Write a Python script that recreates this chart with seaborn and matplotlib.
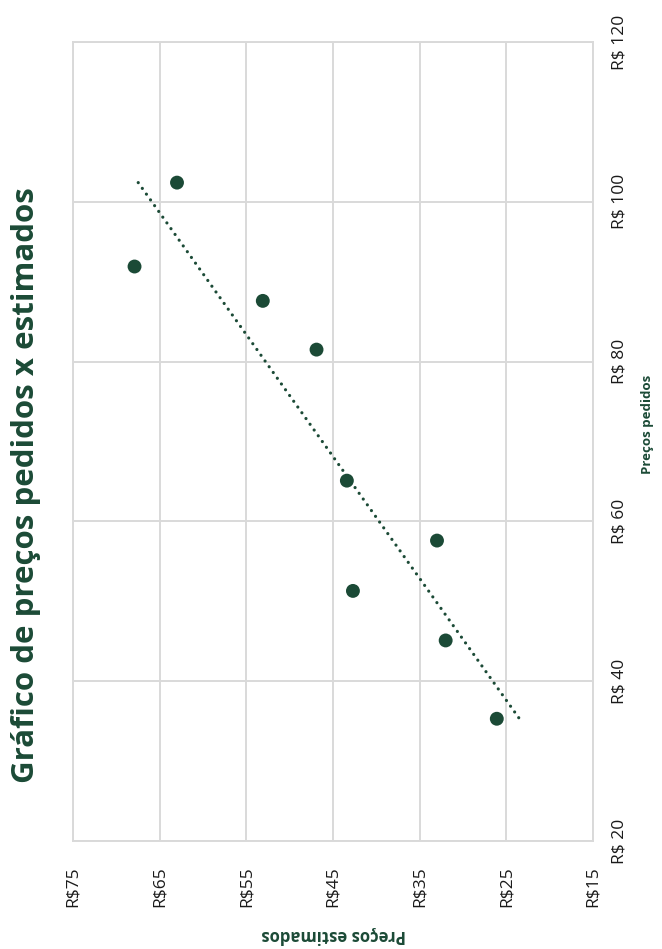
import numpy as np
import pandas as pd
import matplotlib
matplotlib.use("Agg")
import matplotlib.pyplot as plt
import seaborn as sns

# Prices asked vs. estimated prices (R$)
precos_pedidos = [102.4, 91.9, 87.6, 81.5, 65.1, 57.6, 51.3, 45.1, 35.3]
precos_estimados = [63.0, 67.9, 53.1, 46.9, 43.4, 33.0, 42.7, 32.0, 26.1]

pedidos_ticks = [20, 40, 60, 80, 100, 120]
pedidos_labels = ["R$ 20", "R$ 40", "R$ 60", "R$ 80", "R$ 100", "R$ 120"]
estimados_ticks = [75, 65, 55, 45, 35, 25, 15]
estimados_labels = ["R$75", "R$65", "R$55", "R$45", "R$35", "R$25", "R$15"]

titulo = "Gráfico de preços pedidos x estimados"
rotulo_pedidos = "Preços pedidos"
rotulo_estimados = "Preços estimados"

verde = "#1b4a36"
cinza = "#d9d9d9"

sns.set_theme(style="white")
plt.rcParams["font.family"] = ["Open Sans", "DejaVu Sans"]

df = pd.DataFrame({"pedido": precos_pedidos, "estimado": precos_estimados})

fig = plt.figure(figsize=(6.62, 9.49), dpi=100)
ax = fig.add_axes([73 / 662, 1 - 841 / 949, (593 - 73) / 662, (841 - 42) / 949])

# The chart is laid out turned a quarter turn: asked prices run upwards,
# estimated prices run from right (low) to left (high).
sns.scatterplot(data=df, x="estimado", y="pedido", ax=ax, color=verde,
                s=100, edgecolor="none", zorder=3, legend=False)

# Linear trend (asked price as a function of estimated price),
# drawn across the range of asked prices
b, a = np.polyfit(df["estimado"], df["pedido"], 1)
ped_line = np.array([df["pedido"].max(), df["pedido"].min()])
est_line = (ped_line - a) / b
ax.plot(est_line, ped_line, color=verde, linewidth=2.3,
        linestyle=(0, (0.01, 2.2)), dash_capstyle="round", zorder=2)

ax.set_xlim(75, 15)
ax.set_ylim(20, 120)
ax.set_xticks(estimados_ticks)
ax.set_xticklabels(estimados_labels)
ax.set_yticks(pedidos_ticks)
ax.set_yticklabels(pedidos_labels)
ax.yaxis.tick_right()

ax.grid(True, color=cinza, linewidth=1.4)
ax.set_axisbelow(True)
for sp in ax.spines.values():
    sp.set_color(cinza)
    sp.set_linewidth(1.4)

ax.tick_params(axis="x", length=0, pad=18.5, labelsize=12.5, labelcolor="#1a1a1a")
ax.tick_params(axis="y", length=0, pad=13.5, labelsize=12.5, labelcolor="#1a1a1a")
for lab in ax.get_xticklabels():
    lab.set_rotation(90)
    lab.set_ha("center")
    lab.set_va("top")
for lab in ax.get_yticklabels():
    lab.set_rotation(90)
    lab.set_ha("left")
    lab.set_va("center")

ax.set_xlabel("")
ax.set_ylabel("")

fig.text(648 / 662, 1 - 424 / 949, rotulo_pedidos, rotation=90, ha="center",
         va="center", fontsize=9.5, fontweight="bold", color=verde)
fig.text(334 / 662, 1 - 935 / 949, rotulo_estimados, rotation=180, ha="center",
         va="center", fontsize=12, fontweight="bold", color=verde)
fig.text(26 / 662, 1 - 485 / 949, titulo, rotation=90, ha="center",
         va="center", fontsize=22.5, fontweight="bold", color=verde)

fig.savefig("out.png", dpi=100, facecolor="white")
